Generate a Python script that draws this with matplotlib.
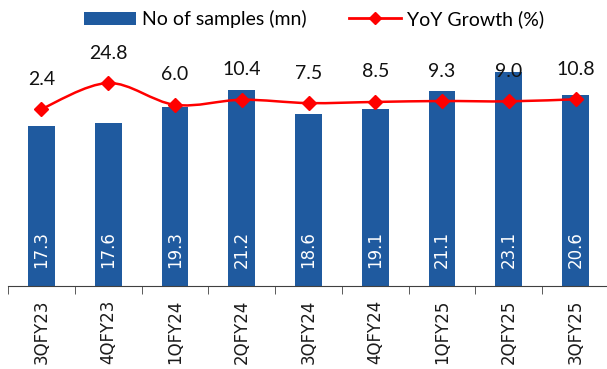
import numpy as np
import matplotlib.pyplot as plt
from matplotlib.path import Path
from matplotlib.patches import PathPatch, Patch
from matplotlib.lines import Line2D

quarters = ['3QFY23', '4QFY23', '1QFY24', '2QFY24', '3QFY24',
            '4QFY24', '1QFY25', '2QFY25', '3QFY25']
samples = [17.3, 17.6, 19.3, 21.2, 18.6, 19.1, 21.1, 23.1, 20.6]
growth = [2.4, 24.8, 6.0, 10.4, 7.5, 8.5, 9.3, 9.0, 10.8]

bar_color = '#1f5a9f'
line_color = '#ff0000'
label_font = 'Lato'


def smooth_path(xs, ys, tension=1.0 / 6):
    # Catmull-Rom style bezier through the points (like a smoothed office line)
    xs = np.asarray(xs, float)
    ys = np.asarray(ys, float)
    n = len(xs)
    verts = [(xs[0], ys[0])]
    codes = [Path.MOVETO]
    for i in range(n - 1):
        p0 = (xs[max(i - 1, 0)], ys[max(i - 1, 0)])
        p1 = (xs[i], ys[i])
        p2 = (xs[i + 1], ys[i + 1])
        p3 = (xs[min(i + 2, n - 1)], ys[min(i + 2, n - 1)])
        c1 = (p1[0] + (p2[0] - p0[0]) * tension, p1[1] + (p2[1] - p0[1]) * tension)
        c2 = (p2[0] - (p3[0] - p1[0]) * tension, p2[1] - (p3[1] - p1[1]) * tension)
        verts += [c1, c2, p2]
        codes += [Path.CURVE4] * 3
    return Path(verts, codes)


def main():
    fig = plt.figure(figsize=(6.07, 3.69), dpi=100)
    ax = fig.add_axes([8 / 607, 1 - 286 / 369, 599 / 607, 246 / 369])
    x = np.arange(len(quarters))

    ax.bar(x, samples, width=0.4, color=bar_color, zorder=2)
    ax.set_xlim(-0.5, 8.47)
    ax.set_ylim(0, 26.57)

    for xi, v in zip(x, samples):
        ax.annotate(f'{v:.1f}', (xi, 0), xytext=(0, 18), textcoords='offset pixels',
                    rotation=90, ha='center', va='bottom', color='white',
                    fontsize=12, family='DejaVu Sans', zorder=3)

    # category axis: ticks between bars, labels rotated
    for side in ['top', 'right', 'left']:
        ax.spines[side].set_visible(False)
    ax.spines['bottom'].set_color('#404040')
    ax.set_yticks([])
    ax.set_xticks(x)
    ax.set_xticklabels(quarters, rotation=90, fontsize=12, family='DejaVu Sans',
                       color='#1a1a1a')
    ax.tick_params(axis='x', which='major', length=0, pad=10)
    ax.set_xticks(np.arange(-0.5, 8.5, 1), minor=True)
    ax.tick_params(axis='x', which='minor', length=6, direction='out', color='#404040')

    # growth line on a second scale
    ax2 = ax.twinx()
    ax2.set_ylim(-150.2, 61.9)
    ax2.axis('off')
    ax2.add_patch(PathPatch(smooth_path(x, growth), facecolor='none',
                            edgecolor=line_color, lw=1.8, zorder=4))
    ax2.plot(x, growth, linestyle='none', marker='D', ms=7, color=line_color, zorder=5)
    for xi, g in zip(x, growth):
        ax2.annotate(f'{g:.1f}', (xi, g), xytext=(0, 30), textcoords='offset pixels',
                     ha='center', va='center', fontsize=14, family=label_font,
                     color='#111111', zorder=6)

    handles = [Patch(facecolor=bar_color, label='No of samples (mn)'),
               Line2D([], [], color=line_color, lw=2, marker='D', ms=6,
                      label='YoY Growth (%)')]
    fig.legend(handles=handles, loc='center', bbox_to_anchor=(0.517, 0.948), ncol=2,
               frameon=False, prop={'family': label_font, 'size': 14},
               handlelength=2.68, handleheight=0.7, handletextpad=0.3,
               columnspacing=2.16)

    fig.savefig('out.png', dpi=100)


if __name__ == "__main__":
    main()
